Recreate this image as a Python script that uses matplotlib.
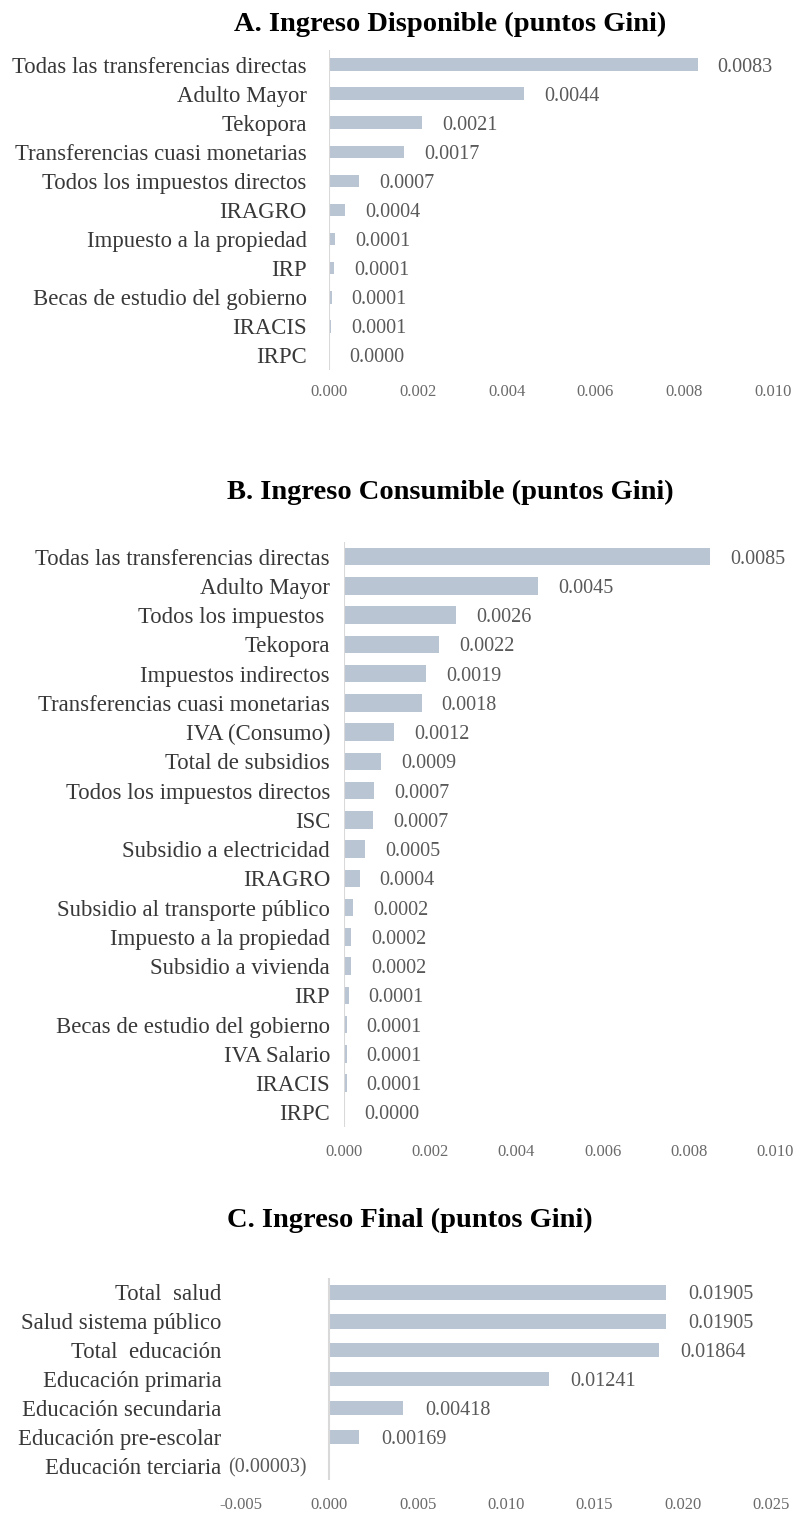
import matplotlib
matplotlib.use("Agg")
from matplotlib import pyplot as plt

plt.rcParams['font.family'] = ['Liberation Serif', 'DejaVu Serif']

# A. Ingreso Disponible
labels_a = ["Todas las transferencias directas", "Adulto Mayor", "Tekopora",
            "Transferencias cuasi monetarias", "Todos los impuestos directos",
            "IRAGRO", "Impuesto a la propiedad", "IRP",
            "Becas de estudio del gobierno", "IRACIS", "IRPC"]
values_a = [0.0083, 0.0044, 0.0021, 0.0017, 0.00068, 0.00036, 0.00013,
            0.00011, 0.00006, 0.000055, 0.00001]

# B. Ingreso Consumible
labels_b = ["Todas las transferencias directas", "Adulto Mayor", "Todos los impuestos ",
            "Tekopora", "Impuestos indirectos", "Transferencias cuasi monetarias",
            "IVA (Consumo)", "Total de subsidios", "Todos los impuestos directos",
            "ISC", "Subsidio a electricidad", "IRAGRO",
            "Subsidio al transporte público", "Impuesto a la propiedad",
            "Subsidio a vivienda", "IRP", "Becas de estudio del gobierno",
            "IVA Salario", "IRACIS", "IRPC"]
values_b = [0.0085, 0.0045, 0.0026, 0.0022, 0.0019, 0.0018, 0.00117, 0.00087,
            0.0007, 0.00067, 0.00049, 0.00036, 0.00022, 0.00016, 0.00016,
            0.00011, 0.00006, 0.00006, 0.00006, 0.00001]

# C. Ingreso Final
labels_c = ["Total  salud", "Salud sistema público", "Total  educación",
            "Educación primaria", "Educación secundaria", "Educación pre-escolar",
            "Educación terciaria"]
values_c = [0.01905, 0.01905, 0.01864, 0.01241, 0.00418, 0.00169, -0.00003]

BAR = "#bac5d4"
GRAY = "#595959"
W, H = 802, 1513

fig = plt.figure(figsize=(W / 100, H / 100), dpi=100)


def panel(rect, labels, values, xlim, xticks, fmt, bar_h, tick_pad, ypad, off_px):
    l, t, r, b = rect
    ax = fig.add_axes([l / W, 1 - b / H, (r - l) / W, (b - t) / H])
    y = list(range(len(values)))
    ax.barh(y, values, height=bar_h, color=BAR, zorder=2)
    ax.axvline(0, color="#d9d9d9", lw=1.5, zorder=3)
    ax.set_ylim(len(values) - 0.5, -0.5)
    ax.set_xlim(*xlim)
    ax.set_xticks(xticks)
    ax.set_xticklabels([f"{v:.3f}" for v in xticks])
    ax.set_yticks(y)
    ax.set_yticklabels(labels, fontsize=16.4, color="#383838")
    ax.tick_params(axis="x", length=0, pad=tick_pad, labelsize=12, labelcolor="#6a6a6a")
    ax.tick_params(axis="y", length=0, pad=ypad)
    for s in ax.spines.values():
        s.set_visible(False)
    for yi, v in zip(y, values):
        txt = fmt(v)
        if v >= 0:
            ax.annotate(txt, (v, yi), xytext=(off_px, 0), textcoords="offset pixels",
                        va="center_baseline", ha="left", fontsize=14.5, color=GRAY)
        else:
            ax.annotate(txt, (v, yi), xytext=(-off_px, 0), textcoords="offset pixels",
                        va="center_baseline", ha="right", fontsize=14.5, color=GRAY)
    return ax


def fmt4(v):
    return f"{v:.4f}"


def fmt5(v):
    return f"({abs(v):.5f})" if v < 0 else f"{v:.5f}"


panel((329, 50, 773, 370), labels_a, values_a, (0, 0.010),
      [0, 0.002, 0.004, 0.006, 0.008, 0.010], fmt4, 0.43, 10, 16, 20)
panel((344, 542, 775, 1127), labels_b, values_b, (0, 0.010),
      [0, 0.002, 0.004, 0.006, 0.008, 0.010], fmt4, 0.6, 12, 10, 20)
panel((241, 1278, 771, 1480), labels_c, values_c, (-0.005, 0.025),
      [-0.005, 0, 0.005, 0.010, 0.015, 0.020, 0.025], fmt5, 0.5, 12, 14, 22)

fig.text(450 / W, 1 - 24 / H, "A. Ingreso Disponible (puntos Gini)", ha="center",
         va="center", fontsize=20.5, fontweight="bold")
fig.text(450 / W, 1 - 492 / H, "B. Ingreso Consumible (puntos Gini)", ha="center",
         va="center", fontsize=20.5, fontweight="bold")
fig.text(410 / W, 1 - 1220 / H, "C. Ingreso Final (puntos Gini)", ha="center",
         va="center", fontsize=20.5, fontweight="bold")

fig.savefig("out.png", dpi=100)
